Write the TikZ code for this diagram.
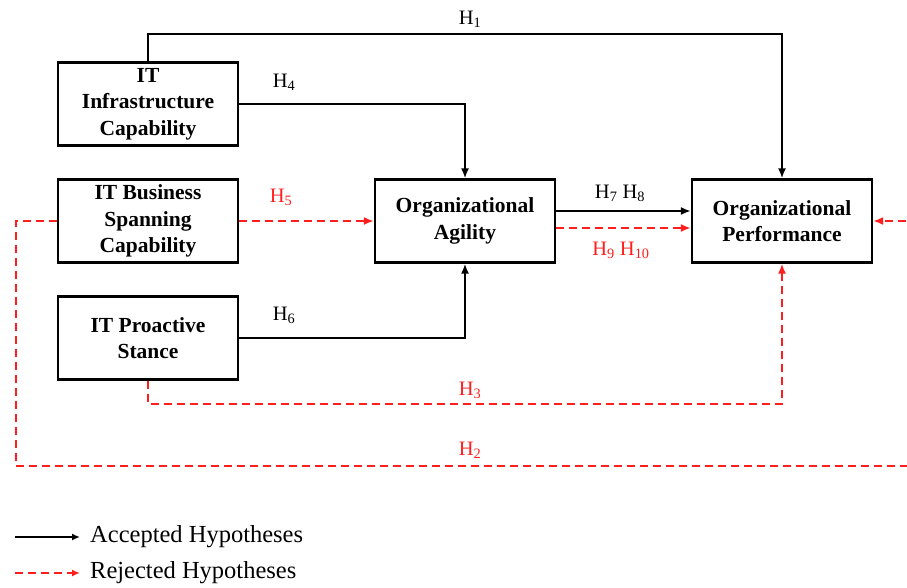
\documentclass[tikz,border=0pt]{standalone}
\usepackage{fontspec}
\setmainfont{Liberation Serif}
\usetikzlibrary{arrows.meta}
\definecolor{rj}{RGB}{255,30,30}
\tikzset{
  box/.style={draw, line width=2.2pt, minimum width=180pt, minimum height=83pt, inner sep=2pt, align=center, font=\fontsize{21.5}{26.5}\selectfont\bfseries},
  acc/.style={line width=2pt, -{Latex[length=10pt,width=8pt]}},
  rej/.style={rj, line width=2.2pt, dash pattern=on 8pt off 5pt, -{Latex[length=10pt,width=8pt]}},
  lab/.style={font=\fontsize{20.5}{22}\selectfont, inner sep=0pt},
  rlab/.style={lab, text=rj}
}
\begin{document}
\begin{tikzpicture}[x=1pt,y=-1pt]
\clip (0,0) rectangle (907,588);
\fill[white] (0,0) rectangle (907,588);
\node[box] (inf) at (148,104) {IT\\Infrastructure\\Capability};
\node[box] (bus) at (148,221) {IT Business\\Spanning\\Capability};
\node[box] (pro) at (148,338) {IT Proactive\\Stance};
\node[box] (agi) at (465,221) {Organizational\\Agility};
\node[box] (per) at (782,221) {Organizational\\Performance};
% H1
\draw[acc] (inf.north) |- (470,34) -| (per.north);
\node[lab] at (470,19) {H\textsubscript{1}};
% H4
\draw[acc] (inf.east) -| (agi.north);
\node[lab] at (284,82) {H\textsubscript{4}};
% H5
\draw[rej] (bus.east) -- (agi.west);
\node[rlab] at (281,197) {H\textsubscript{5}};
% H6
\draw[acc] (pro.east) -| (agi.south);
\node[lab] at (284,315) {H\textsubscript{6}};
% H7 H8
\coordinate (a1) at (agi.east |- 0,211);
\coordinate (p1) at (per.west |- 0,211);
\draw[acc] (a1) -- (p1);
\node[lab] at (620,193) {H\textsubscript{7} H\textsubscript{8}};
% H9 H10
\coordinate (a2) at (agi.east |- 0,228);
\coordinate (p2) at (per.west |- 0,228);
\draw[rej] (a2) -- (p2);
\node[rlab] at (621,250) {H\textsubscript{9} H\textsubscript{10}};
% H3
\draw[rej] (pro.south) |- (470,404) -| (per.south);
\node[rlab] at (470,390) {H\textsubscript{3}};
% H2
\coordinate (h2r) at (930,466);
\draw[rej] (bus.west) -| (16,466) -- (h2r) |- (per.east);
\node[rlab] at (470,450) {H\textsubscript{2}};
% legend
\coordinate (l1a) at (15,537);
\coordinate (l1b) at (80,537);
\coordinate (l2a) at (15,573);
\coordinate (l2b) at (80,573);
\draw[acc, line width=1.8pt, -{Latex[length=8pt,width=7pt]}] (l1a) -- (l1b);
\draw[rej, line width=2pt, -{Latex[length=8pt,width=7pt]}] (l2a) -- (l2b);
\node[lab, anchor=west, font=\fontsize{24.5}{26}\selectfont] (t1) at (90,537) {Accepted Hypotheses};
\node[lab, anchor=west, font=\fontsize{24.5}{26}\selectfont] (t2) at (90,573) {Rejected Hypotheses};
\end{tikzpicture}
\end{document}
